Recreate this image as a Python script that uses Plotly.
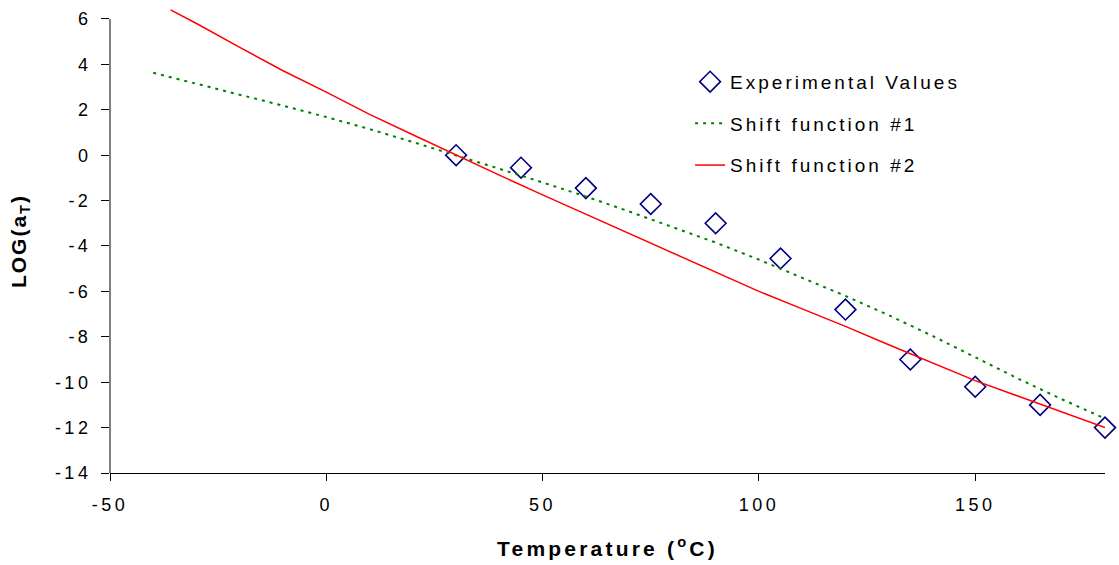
import plotly.graph_objects as go

# Measured shift factors
exp_temp = [30, 45, 60, 75, 90, 105, 120, 135, 150, 165, 180]
exp_log_at = [0.0, -0.55, -1.45, -2.15, -3.0, -4.55, -6.8, -9.0, -10.2, -11.0, -12.0]

# Shift function #1
f1_temp = [-40, -30, -20, -10, 0, 10, 20, 30, 40, 50, 60, 70, 80, 90,
           100, 110, 120, 130, 140, 150, 160, 170, 180]
f1_log_at = [3.63, 3.15, 2.68, 2.18, 1.68, 1.15, 0.58, 0.0, -0.6, -1.2, -1.82,
             -2.48, -3.15, -3.85, -4.6, -5.4, -6.2, -7.05, -7.95, -8.9, -9.85,
             -10.75, -11.6]

# Shift function #2
f2_temp = [-36, -30, -20, -10, 0, 10, 20, 30, 40, 50, 60, 70, 80, 90,
           100, 110, 120, 130, 140, 150, 160, 170, 180]
f2_log_at = [6.4, 5.8, 4.75, 3.72, 2.78, 1.8, 0.9, 0.0, -0.88, -1.75, -2.6,
             -3.47, -4.33, -5.17, -6.0, -6.77, -7.54, -8.35, -9.15, -9.93,
             -10.62, -11.3, -12.0]

# Axis ticks (plain hyphen minus signs)
x_tick_vals = [-50, 0, 50, 100, 150]
x_tick_text = ["-50", "0", "50", "100", "150"]
y_tick_vals = [-14, -12, -10, -8, -6, -4, -2, 0, 2, 4, 6]
y_tick_text = ["-14", "-12", "-10", "-8", "-6", "-4", "-2", "0", "2", "4", "6"]

FONT = "Liberation Sans, Arial, sans-serif"

fig = go.Figure()

fig.add_trace(go.Scatter(
    x=exp_temp, y=exp_log_at, mode="markers", name="Experimental Values",
    marker=dict(symbol="diamond-open", size=16, color="#000080",
                line=dict(color="#000080", width=1.6)),
    cliponaxis=False, legendgroup="a",
))
fig.add_trace(go.Scatter(
    x=f1_temp, y=f1_log_at, mode="lines", name="Shift function #1",
    line=dict(color="#008000", width=2, dash="3px,5px"),
    legendgroup="b",
))
fig.add_trace(go.Scatter(
    x=f2_temp, y=f2_log_at, mode="lines", name="Shift function #2",
    line=dict(color="#FF0000", width=1.5),
    legendgroup="c",
))

axis_common = dict(
    showgrid=False, zeroline=False, ticks="outside", tickcolor="#000000",
    tickwidth=1, tickfont=dict(family=FONT, size=18, color="#000000"),
)

fig.update_xaxes(
    range=[-50, 180], tickvals=x_tick_vals, ticktext=x_tick_text, ticklen=7,
    showline=True, linecolor="#000000", linewidth=1, ticklabelstandoff=8,
    title=dict(text="<b>Temperature (<sup>o</sup>C)</b>",
               font=dict(family=FONT, size=21, color="#000000"), standoff=27),
    **axis_common,
)
# The y range leaves headroom above 6 so the steep curve is not cut off;
# the axis line itself stops at 6.
fig.update_yaxes(
    range=[-14, 6.44], tickvals=y_tick_vals, ticktext=y_tick_text, ticklen=8,
    showline=False, ticklabelstandoff=6,
    title=dict(text="<b>LOG(a<sub>T</sub>)</b>",
               font=dict(family=FONT, size=21, color="#000000"), standoff=33),
    **axis_common,
)
fig.add_shape(type="line", xref="paper", yref="y", x0=0, x1=0,
              y0=y_tick_vals[0], y1=y_tick_vals[-1],
              line=dict(color="#000000", width=1), layer="above")

fig.update_layout(
    width=1119, height=565,
    margin=dict(l=110, r=14, t=9, b=92),
    paper_bgcolor="white", plot_bgcolor="white",
    showlegend=True,
    legend=dict(
        x=0.583, y=0.884, xanchor="left", yanchor="top",
        font=dict(family=FONT, size=19, color="#000000"),
        bgcolor="rgba(0,0,0,0)", tracegroupgap=14, itemwidth=30,
    ),
)

# Wide letter spacing for the chart text; the legend is left unclipped so the
# wider entries stay visible.
spacing_css = (
    ".xtick text, .ytick text {letter-spacing: 3.5px;}"
    ".legendtext {letter-spacing: 3px;}"
    ".g-xtitle text {letter-spacing: 3.2px;}"
    ".g-ytitle text {letter-spacing: 2px;}"
    ".legend, .legend .scrollbox {clip-path: none !important;}"
)
post_js = (
    "var st = document.createElement('style');"
    "st.textContent = '" + spacing_css + "';"
    "document.head.appendChild(st);"
)

fig.write_html("out.html", post_script=post_js)
